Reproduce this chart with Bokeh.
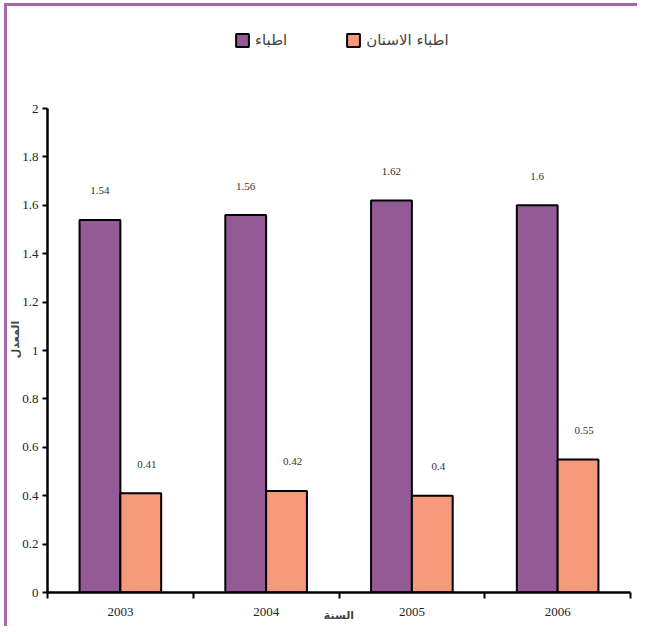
from bokeh.plotting import figure
from bokeh.models import ColumnDataSource, Range1d, FixedTicker, Legend, LegendItem, InlineStyleSheet
from bokeh.core.properties import value
from bokeh.embed import file_html
from bokeh.resources import INLINE

years = ["2003", "2004", "2005", "2006"]
doctors = [1.54, 1.56, 1.62, 1.6]
dentists = [0.41, 0.42, 0.4, 0.55]
series_names = ["اطباء", "اطباء الاسنان"]
y_ticks = [0, 0.2, 0.4, 0.6, 0.8, 1, 1.2, 1.4, 1.6, 1.8, 2]
y_tick_labels = ["0", "0.2", "0.4", "0.6", "0.8", "1", "1.2", "1.4", "1.6", "1.8", "2"]
x_title = "السنة"
y_title = "المعدل"

PURPLE = "#935a95"
ORANGE = "#f5997b"
FRAME = "#a468ab"

idx = list(range(len(years)))
src = ColumnDataSource(dict(
    xd=[i + 0.5 - 0.14 for i in idx],
    xo=[i + 0.5 + 0.14 for i in idx],
    doc=doctors, den=dentists,
    doc_lbl=[str(v) for v in doctors],
    den_lbl=[str(v) for v in dentists],
))

page_frame = "inset 4px 3px 0 0 white, inset 7px 6px 0 0 " + FRAME
css = InlineStyleSheet(css=":host { box-shadow: " + page_frame + "; background: white; }")

p = figure(width=637, height=626, output_backend="svg", toolbar_location=None,
           x_range=Range1d(0, len(years)), y_range=Range1d(0, 2.364),
           min_border_left=47, min_border_right=7, min_border_top=20, min_border_bottom=34,
           stylesheets=[css], styles={"box-shadow": page_frame})
p.grid.visible = False
p.outline_line_color = None
p.background_fill_color = "white"
p.border_fill_alpha = 0

r1 = p.vbar(x="xd", top="doc", width=0.28, source=src, fill_color=PURPLE,
            line_color="black", line_width=2)
r2 = p.vbar(x="xo", top="den", width=0.28, source=src, fill_color=ORANGE,
            line_color="black", line_width=2)

p.text(x="xd", y="doc", text="doc_lbl", source=src, y_offset=-29,
       text_align="center", text_baseline="middle", text_font=value("Liberation Serif"),
       text_font_size="11px", text_color="#333333")
p.text(x="xo", y="den", text="den_lbl", source=src, x_offset=6, y_offset=-29,
       text_align="center", text_baseline="middle", text_font=value("Liberation Serif"),
       text_font_size="11px", text_color="#333333")

# y axis
ya = p.yaxis[0]
ya.ticker = FixedTicker(ticks=y_ticks, minor_ticks=[])
ya.major_label_overrides = {t: l for t, l in zip(y_ticks, y_tick_labels)}
ya.bounds = (0, 2)
ya.axis_line_width = 2.5
ya.axis_line_color = "black"
ya.major_tick_line_width = 2
ya.major_tick_in = 0
ya.major_tick_out = 5
ya.major_label_text_font = "Liberation Serif"
ya.major_label_text_font_size = "13px"
ya.major_label_text_color = "#222222"
ya.major_label_standoff = 4
# trailing em spaces shift the centred title down to where the reference has it
ya.axis_label = y_title + "\u2003" * 6
ya.axis_label_text_font = "DejaVu Sans"
ya.axis_label_text_font_style = "bold"
ya.axis_label_text_font_size = "11px"
ya.axis_label_standoff = -3

# x axis
xa = p.xaxis[0]
centers = [i + 0.5 for i in idx]
xa.ticker = FixedTicker(ticks=centers, minor_ticks=list(range(len(years) + 1)))
xa.major_label_overrides = {c: y for c, y in zip(centers, years)}
xa.axis_line_width = 2.5
xa.axis_line_color = "black"
xa.major_tick_line_color = None
xa.minor_tick_line_color = "black"
xa.minor_tick_line_width = 2
xa.minor_tick_in = 0
xa.minor_tick_out = 6
xa.major_label_standoff = 9
xa.major_label_text_font = "Liberation Serif"
xa.major_label_text_font_size = "13px"
xa.major_label_text_color = "#222222"
xa.axis_label = x_title
xa.axis_label_text_font = "DejaVu Sans"
xa.axis_label_text_font_style = "bold"
xa.axis_label_text_font_size = "11px"
xa.axis_label_standoff = -10

legend = Legend(items=[LegendItem(label=series_names[0], renderers=[r1]),
                       LegendItem(label=series_names[1], renderers=[r2])],
                orientation="horizontal", location=(187, 543),
                label_text_font="DejaVu Sans", label_text_font_size="15px",
                glyph_width=16, glyph_height=16, spacing=58, margin=0, padding=4,
                border_line_color=None, background_fill_alpha=0)
p.add_layout(legend)

open("out.html", "w").write(file_html(p, INLINE))
